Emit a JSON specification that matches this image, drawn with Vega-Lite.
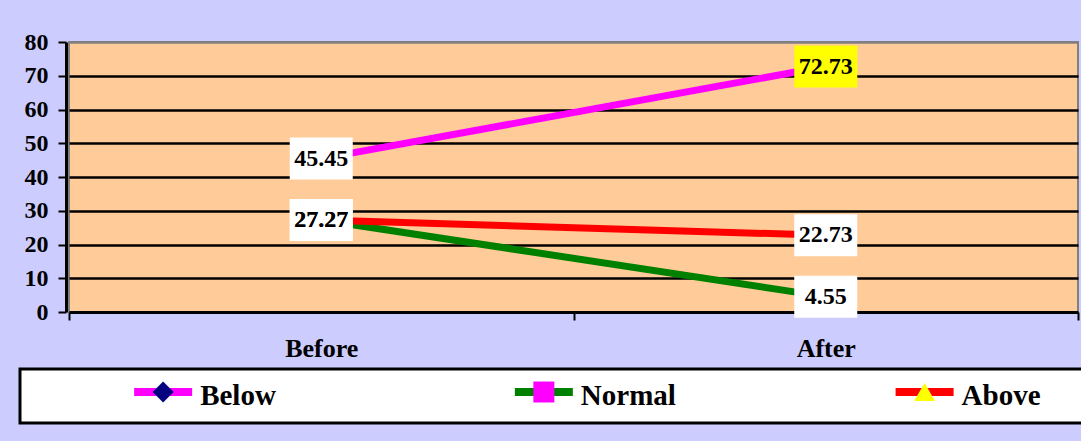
{
  "$schema": "https://vega.github.io/schema/vega-lite/v6.json",
  "background": "#CCCCFF",
  "padding": {"left": 18, "top": 30, "right": 0, "bottom": 16},
  "spacing": 5,
  "config": {
    "font": "Liberation Serif",
    "axis": {"labelColor": "black", "labelFont": "Liberation Serif", "labelFontWeight": "bold"}
  },
  "datasets": {
    "main": [
      {"series": "Below", "time": "Before", "value": 45.45},
      {"series": "Below", "time": "After", "value": 72.73},
      {"series": "Normal", "time": "Before", "value": 27.27},
      {"series": "Normal", "time": "After", "value": 4.55},
      {"series": "Above", "time": "Before", "value": 27.27},
      {"series": "Above", "time": "After", "value": 22.73}
    ],
    "legend": [
      {"series": "Below"},
      {"series": "Normal"},
      {"series": "Above"}
    ]
  },
  "resolve": {"scale": {"x": "independent", "y": "independent"}},
  "vconcat": [
    {
      "spacing": 0,
      "resolve": {"scale": {"x": "independent", "y": "shared"}, "axis": {"y": "independent"}},
      "hconcat": [
        {
          "width": 46,
          "height": 270,
          "view": {"stroke": null, "fill": null},
          "data": {"name": "main"},
          "mark": {"type": "point", "opacity": 0},
          "encoding": {
            "y": {
              "field": "value", "type": "quantitative",
              "scale": {"domain": [0, 80], "nice": false},
              "axis": {
                "title": null, "values": [0, 10, 20, 30, 40, 50, 60, 70, 80], "offset": -46,
                "labelFontSize": 24, "labelPadding": 10,
                "tickSize": 8, "tickWidth": 2, "tickColor": "black",
                "domainColor": "black", "domainWidth": 3, "grid": false
              }
            }
          }
        },
        {
          "width": 1009,
          "height": 270,
          "view": {"fill": "#FFCC99", "stroke": "#808080", "strokeWidth": 2},
          "data": {"name": "main"},
          "encoding": {
            "x": {
              "field": "time", "type": "nominal",
              "scale": {"domain": ["Before", "After"], "paddingInner": 0, "paddingOuter": 0},
              "axis": {
                "title": null, "labelAngle": 0, "labelFontSize": 26, "labelPadding": 15,
                "tickBand": "extent", "tickSize": 8, "tickWidth": 2, "tickColor": "black",
                "domainColor": "black", "domainWidth": 3, "grid": false
              }
            },
            "y": {
              "field": "value", "type": "quantitative",
              "scale": {"domain": [0, 80], "nice": false},
              "axis": {
                "title": null, "values": [10, 20, 30, 40, 50, 60, 70, 80],
                "labels": false, "ticks": false, "domain": false,
                "grid": true, "gridWidth": 2.5,
                "gridColor": {"condition": {"test": "datum.value == 80", "value": "#808080"}, "value": "black"}
              }
            }
          },
          "layer": [
            {
              "mark": {"type": "line", "strokeWidth": 7},
              "encoding": {
                "color": {
                  "field": "series", "type": "nominal", "legend": null,
                  "scale": {"domain": ["Below", "Normal", "Above"], "range": ["#FF00FF", "#008000", "#FF0000"]}
                }
              }
            },
            {
              "mark": {"type": "point", "filled": true, "size": 440, "opacity": 1},
              "encoding": {
                "fill": {
                  "field": "series", "type": "nominal", "legend": null,
                  "scale": {"domain": ["Below", "Normal", "Above"], "range": ["#000080", "#FF00FF", "#FFFF00"]}
                },
                "shape": {
                  "field": "series", "type": "nominal", "legend": null,
                  "scale": {"domain": ["Below", "Normal", "Above"], "range": ["diamond", "square", "triangle-up"]}
                }
              }
            },
            {
              "mark": {"type": "point", "filled": true, "opacity": 1, "size": 3969, "shape": "M-1,-0.667L1,-0.667L1,0.667L-1,0.667Z"},
              "encoding": {
                "fill": {"condition": {"test": "datum.value > 70", "value": "#FFFF00"}, "value": "white"}
              }
            },
            {
              "mark": {"type": "text", "font": "Liberation Serif", "fontWeight": "bold", "fontSize": 24, "color": "black", "baseline": "middle", "align": "center"},
              "encoding": {"text": {"field": "value", "type": "quantitative", "format": ".2f"}}
            }
          ]
        }
      ]
    },
    {
      "width": 1063,
      "height": 54,
      "view": {"fill": "white", "stroke": "black", "strokeWidth": 3},
      "data": {"name": "legend"},
      "encoding": {
        "x": {
          "field": "series", "type": "nominal", "axis": null,
          "scale": {"type": "band", "domain": ["Below", "Normal", "Above"], "paddingInner": 0.9, "paddingOuter": 0.346, "align": 0.471}
        }
      },
      "layer": [
        {
          "mark": {"type": "point", "filled": true, "opacity": 1, "size": 3364, "yOffset": -4, "shape": "M-1,-0.14L1,-0.14L1,0.14L-1,0.14Z"},
          "encoding": {
            "color": {
              "field": "series", "type": "nominal", "legend": null,
              "scale": {"domain": ["Below", "Normal", "Above"], "range": ["#FF00FF", "#008000", "#FF0000"]}
            }
          }
        },
        {
          "mark": {"type": "point", "filled": true, "size": 440, "opacity": 1, "yOffset": -4},
          "encoding": {
            "fill": {
              "field": "series", "type": "nominal", "legend": null,
              "scale": {"domain": ["Below", "Normal", "Above"], "range": ["#000080", "#FF00FF", "#FFFF00"]}
            },
            "shape": {
              "field": "series", "type": "nominal", "legend": null,
              "scale": {"domain": ["Below", "Normal", "Above"], "range": ["diamond", "square", "triangle-up"]}
            }
          }
        },
        {
          "mark": {"type": "text", "align": "left", "baseline": "middle", "dx": 37, "font": "Liberation Serif", "fontWeight": "bold", "fontSize": 29, "color": "black"},
          "encoding": {"text": {"field": "series", "type": "nominal"}}
        }
      ]
    }
  ]
}
